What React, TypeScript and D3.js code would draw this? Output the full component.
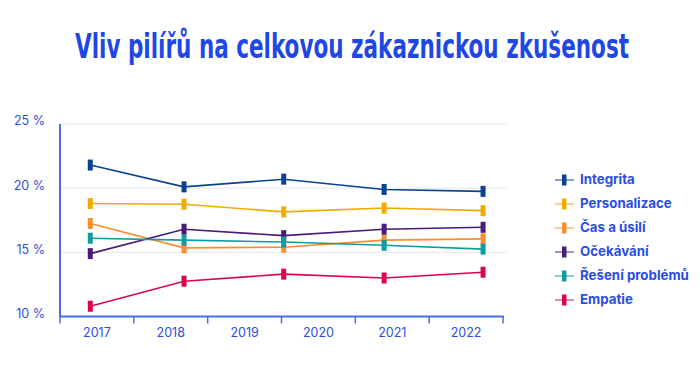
import React from "react";
import * as d3 from "d3";

const title = "Vliv pilířů na celkovou zákaznickou zkušenost";
const years = ["2017", "2018", "2019", "2020", "2021", "2022"];
const yTicks = [10, 15, 20, 25];
// measurement dates (fractional years) of the five survey waves
const waveDates = [2017.41, 2018.68, 2020.03, 2021.39, 2022.73];

const seriesNames = ["Integrita", "Personalizace", "Čas a úsilí", "Očekávání", "Řešení problémů", "Empatie"];
const integrita = [21.8, 20.1, 20.7, 19.9, 19.75];
const personalizace = [18.8, 18.75, 18.15, 18.45, 18.25];
const casAUsili = [17.25, 15.35, 15.4, 15.95, 16.05];
const ocekavani = [14.9, 16.8, 16.3, 16.8, 16.95];
const reseniProblemu = [16.1, 15.95, 15.8, 15.55, 15.25];
const empatie = [10.8, 12.75, 13.3, 13.0, 13.45];
const seriesValues = [integrita, personalizace, casAUsili, ocekavani, reseniProblemu, empatie];
const seriesColors = ["#0b4191", "#efab00", "#f88f2c", "#4a1b7a", "#0f9c9e", "#d9064f"];

const W = 700;
const H = 377;
const textBlue = "#2b4de2";
const axisBlue = "#4d6ce9";

export default function App() {
  const left = 60;
  const right = 503;
  const top = 124;
  const bottom = 316.5;

  const xBand = d3.scaleBand<string>().domain(years).range([left, right]);
  const xTime = d3.scaleLinear().domain([2017, 2023]).range([left, right]);
  const y = d3.scaleLinear().domain([10, 25]).range([bottom, top]);

  const line = d3
    .line<number>()
    .x((_, i) => xTime(waveDates[i]))
    .y((v) => y(v));

  const tickXs = years.map((yr) => xBand(yr) as number).concat([right]);

  return (
    <svg
      width={W}
      height={H}
      style={{ position: "absolute", left: 0, top: 0, background: "#fff" }}
      fontFamily="Inter, Roboto, sans-serif"
    >
      <g transform="translate(75,58) scale(1,1.3)">
        <text
          x={0}
          y={0}
          fontFamily="'DejaVu Sans Condensed', 'Liberation Sans Narrow', sans-serif"
          fontWeight={700}
          fontSize={25.5}
          fill="#1f47e6"
          textLength={554}
          lengthAdjust="spacingAndGlyphs"
        >
          {title}
        </text>
      </g>

      {/* gridlines */}
      {yTicks
        .filter((t) => t > 10)
        .map((t) => (
          <line key={t} x1={left} x2={507} y1={y(t)} y2={y(t)} stroke="#e6e6e6" strokeWidth={1} />
        ))}

      {/* y labels */}
      {yTicks.map((t) => (
        <text
          key={t}
          x={45}
          y={y(t) - 2}
          textAnchor="end"
          dominantBaseline="middle"
          fontSize={12.5}
          fill={textBlue}
        >
          {`${t} %`}
        </text>
      ))}

      {/* axes */}
      <line x1={left} x2={left} y1={top} y2={bottom} stroke={axisBlue} strokeWidth={2} />
      <line x1={left - 1} x2={right + 1} y1={bottom} y2={bottom} stroke={axisBlue} strokeWidth={2} />
      {tickXs.map((tx, i) => (
        <line key={i} x1={tx} x2={tx} y1={bottom} y2={bottom + 7} stroke={axisBlue} strokeWidth={1.5} />
      ))}
      {years.map((yr) => (
        <text
          key={yr}
          x={(xBand(yr) as number) + xBand.bandwidth() / 2}
          y={334}
          textAnchor="middle"
          dominantBaseline="middle"
          fontSize={12.5}
          fill={textBlue}
        >
          {yr}
        </text>
      ))}

      {/* series */}
      {seriesValues.map((vals, si) => (
        <g key={seriesNames[si]}>
          <path d={line(vals) || ""} fill="none" stroke={seriesColors[si]} strokeWidth={1.6} />
          {vals.map((v, i) => (
            <rect
              key={i}
              x={xTime(waveDates[i]) - 2.5}
              y={y(v) - 5.5}
              width={5}
              height={11}
              fill={seriesColors[si]}
            />
          ))}
        </g>
      ))}

      {/* legend */}
      {seriesNames.map((name, i) => {
        const cy = 180 + i * 24;
        return (
          <g key={name}>
            <line x1={555} x2={574} y1={cy} y2={cy} stroke={seriesColors[i]} strokeWidth={1.6} opacity={0.6} />
            <rect x={562} y={cy - 5.5} width={4.5} height={11} fill={seriesColors[i]} />
            <text x={580} y={cy} dominantBaseline="middle" fontSize={13.3} fontWeight={700} fill={textBlue}>
              {name}
            </text>
          </g>
        );
      })}
    </svg>
  );
}
